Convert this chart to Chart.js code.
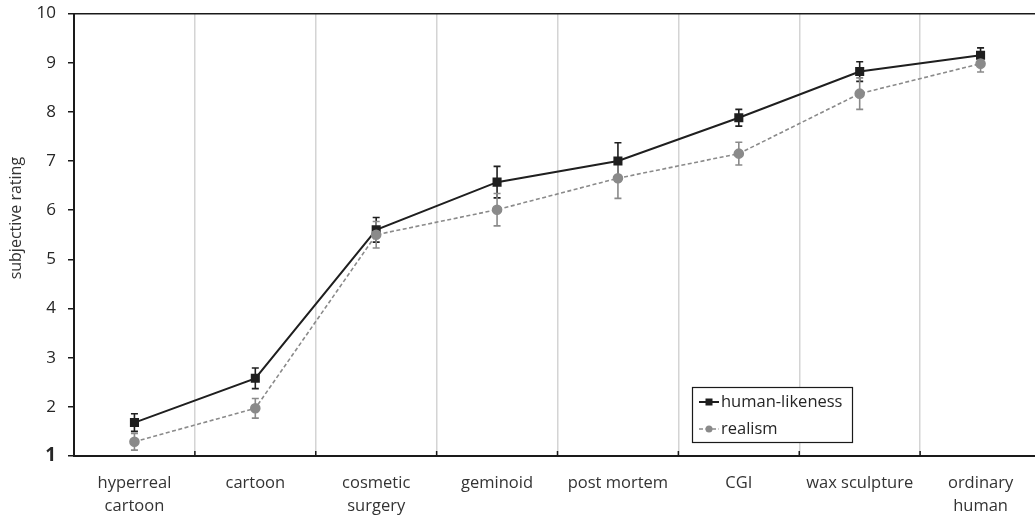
<!DOCTYPE html>
<html>
<head>
<meta charset="utf-8">
<script src="https://cdn.jsdelivr.net/npm/chart.js@4.4.1/dist/chart.umd.min.js"></script>
<style>
  html, body { margin: 0; padding: 0; background: #fff; overflow: hidden; }
  #wrap { position: relative; width: 1048px; height: 519px; }
</style>
</head>
<body>
<div id="wrap"><canvas id="c"></canvas></div>
<script>
const categories = [["hyperreal","cartoon"], "cartoon", ["cosmetic","surgery"], "geminoid", "post mortem", "CGI", "wax sculpture", ["ordinary","human"]];
const humanLikeness = [1.68, 2.58, 5.60, 6.57, 7.00, 7.88, 8.82, 9.15];
const humanLikenessErr = [0.18, 0.21, 0.25, 0.32, 0.37, 0.17, 0.20, 0.15];
const realism = [1.29, 1.97, 5.50, 6.01, 6.65, 7.15, 8.37, 8.98];
const realismErr = [0.17, 0.20, 0.27, 0.33, 0.41, 0.23, 0.32, 0.17];
const yTicks = [1, 2, 3, 4, 5, 6, 7, 8, 9, 10];
const seriesNames = ["human-likeness", "realism"];
const yTitle = "subjective rating";

const FONT = "'Open Sans', 'Noto Sans', sans-serif";
const HUMAN_COLOR = "#1f1f1f";
const REAL_COLOR = "#8a8a8a";

const errorBars = {
  id: 'errorBars',
  beforeDatasetsDraw(chart) {
    const ctx = chart.ctx;
    const y = chart.scales.y;
    chart.data.datasets.forEach((ds, di) => {
      const meta = chart.getDatasetMeta(di);
      ctx.save();
      ctx.strokeStyle = ds.borderColor;
      ctx.lineWidth = 1.6;
      meta.data.forEach((pt, i) => {
        const v = ds.data[i], e = ds.errors[i];
        const top = y.getPixelForValue(v + e), bot = y.getPixelForValue(v - e);
        const x = pt.x;
        ctx.beginPath();
        ctx.moveTo(x, top); ctx.lineTo(x, bot);
        ctx.moveTo(x - 3.5, top); ctx.lineTo(x + 3.5, top);
        ctx.moveTo(x - 3.5, bot); ctx.lineTo(x + 3.5, bot);
        ctx.stroke();
      });
      ctx.restore();
    });
  }
};

// short dark tick marks pointing inward at category boundaries
const innerTicks = {
  id: 'innerTicks',
  afterDraw(chart) {
    const ctx = chart.ctx;
    const xs = chart.scales.x;
    const bottom = chart.chartArea.bottom;
    ctx.save();
    ctx.strokeStyle = '#1a1a1a';
    ctx.lineWidth = 1.5;
    for (let i = 1; i < categories.length; i++) {
      const px = xs.getPixelForValue(i - 0.5);
      ctx.beginPath();
      ctx.moveTo(px, bottom);
      ctx.lineTo(px, bottom - 5);
      ctx.stroke();
    }
    ctx.restore();
  }
};

const boxLegend = {
  id: 'boxLegend',
  afterDraw(chart) {
    const ctx = chart.ctx;
    const left = 692, top = 387, w = 160, h = 55;
    ctx.save();
    ctx.fillStyle = '#fff';
    ctx.fillRect(left, top, w, h);
    ctx.strokeStyle = '#1a1a1a';
    ctx.lineWidth = 1.2;
    ctx.strokeRect(left + 0.5, top + 0.5, w, h);
    const rows = [top + 15, top + 42];
    chart.data.datasets.forEach((ds, i) => {
      const cy = rows[i];
      ctx.strokeStyle = ds.borderColor;
      ctx.lineWidth = ds.borderWidth;
      ctx.setLineDash(ds.borderDash || []);
      ctx.beginPath();
      ctx.moveTo(699, cy); ctx.lineTo(719, cy);
      ctx.stroke();
      ctx.setLineDash([]);
      ctx.fillStyle = ds.pointBackgroundColor;
      if (ds.pointStyle === 'rect') {
        ctx.fillRect(705.5, cy - 3.5, 7, 7);
      } else {
        ctx.beginPath(); ctx.arc(709, cy, 3.5, 0, Math.PI * 2); ctx.fill();
      }
      ctx.fillStyle = '#262626';
      ctx.font = "16.5px " + FONT;
      ctx.textBaseline = 'middle';
      ctx.textAlign = 'left';
      ctx.fillText(ds.label, 721, cy);
    });
    ctx.restore();
  }
};

new Chart(document.getElementById('c'), {
  type: 'line',
  data: {
    labels: categories,
    datasets: [
      {
        label: seriesNames[0],
        data: humanLikeness,
        errors: humanLikenessErr,
        borderColor: HUMAN_COLOR,
        backgroundColor: HUMAN_COLOR,
        pointBackgroundColor: HUMAN_COLOR,
        pointBorderColor: HUMAN_COLOR,
        pointStyle: 'rect',
        pointRadius: 5,
        borderWidth: 2,
        order: 1
      },
      {
        label: seriesNames[1],
        data: realism,
        errors: realismErr,
        borderColor: REAL_COLOR,
        backgroundColor: REAL_COLOR,
        pointBackgroundColor: REAL_COLOR,
        pointBorderColor: REAL_COLOR,
        pointStyle: 'circle',
        pointRadius: 4.5,
        borderWidth: 1.6,
        borderDash: [4, 2.5],
        order: 0
      }
    ]
  },
  options: {
    responsive: true,
    maintainAspectRatio: false,
    animation: false,
    layout: { padding: { top: 13.5, right: 0, bottom: 0, left: 0 } },
    plugins: { legend: { display: false }, tooltip: { enabled: false } },
    elements: { line: { tension: 0 } },
    scales: {
      x: {
        type: 'category',
        offset: true,
        afterFit(scale) { scale.height = 63; scale.paddingLeft = 0; scale.paddingRight = 0; },
        grid: {
          offset: true,
          color: '#d4d4d4',
          lineWidth: 1.5,
          drawTicks: false
        },
        border: { color: '#1a1a1a', width: 2 },
        ticks: {
          color: '#333',
          font: { family: FONT, size: 16.5, lineHeight: 1.43 },
          padding: 15,
          maxRotation: 0,
          autoSkip: false
        }
      },
      y: {
        min: 1,
        max: 10,
        afterFit(scale) { scale.width = 74; scale.paddingTop = 0; scale.paddingBottom = 0; },
        afterBuildTicks(scale) { scale.ticks = yTicks.map(v => ({ value: v })); },
        grid: {
          color: (c) => (c.tick && c.tick.value === 10) ? '#1a1a1a' : 'rgba(0,0,0,0)',
          lineWidth: 1.5,
          tickColor: '#1a1a1a',
          tickLength: 6
        },
        border: { color: '#1a1a1a', width: 2 },
        ticks: {
          color: '#262626',
          padding: 12,
          font: (c) => (c.tick && c.tick.value === 1)
            ? { family: FONT, size: 19, weight: 'bold' }
            : { family: FONT, size: 17, weight: 'normal' }
        },
        title: {
          display: true,
          text: '        ' + yTitle,
          color: '#333',
          font: { family: FONT, size: 16 },
          padding: { top: 7, bottom: 0 }
        }
      }
    }
  },
  plugins: [errorBars, innerTicks, boxLegend]
});
</script>
</body>
</html>
